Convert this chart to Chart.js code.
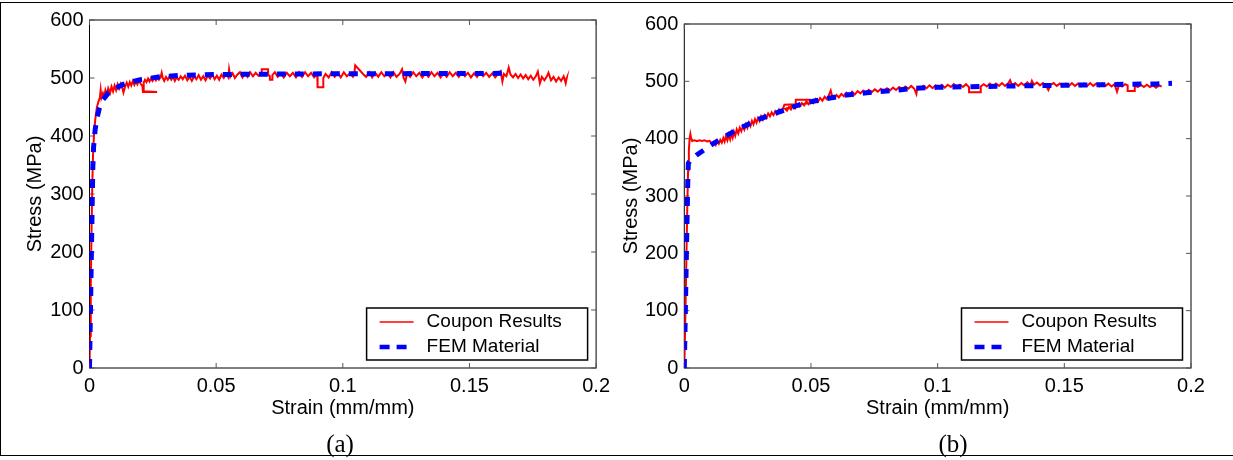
<!DOCTYPE html>
<html>
<head>
<meta charset="utf-8">
<script src="https://cdn.jsdelivr.net/npm/chart.js@4.4.1/dist/chart.umd.min.js"></script>
<style>
  html, body { margin: 0; padding: 0; background: #fff; }
  body { width: 1233px; height: 460px; position: relative; overflow: hidden; }
  canvas { position: absolute; top: 0; display: block; }
  #chartA { left: 0; }
  #chartB { left: 616px; }
  #frame { position: absolute; left: 0; top: 2px; width: 1260px; height: 454px; border: 1px solid #000; box-sizing: border-box; }
  .cap { position: absolute; top: 431px; font: 25px "Liberation Serif", "Times New Roman", serif; line-height: 25px; transform: translateX(-50%); }
</style>
</head>
<body>
<div id="frame"></div>
<canvas id="chartA" width="616" height="460"></canvas>
<canvas id="chartB" width="617" height="460"></canvas>
<div class="cap" style="left:340px">(a)</div>
<div class="cap" style="left:953px">(b)</div>
<script>
const strainTicks = [0, 0.05, 0.1, 0.15, 0.2];
const stressTicks = [0, 100, 200, 300, 400, 500, 600];
const seriesNames = ['Coupon Results', 'FEM Material'];

// [strain, stress] pairs, coupon test (a)
const couponA = [
  [0,0],[0.0002,55],[0.0005,140],[0.0008,235],[0.0011,315],[0.0014,368],[0.0018,404],[0.0023,430],[0.0029,449],[0.0035,459],[0.0041,466],
  [0.0044,479],[0.0047,466],[0.0053,474],[0.0058,468],[0.0063,479],[0.0069,471],[0.0074,482],[0.0081,474],[0.0087,485],[0.0093,477],
  [0.0099,487],[0.0105,479],[0.0111,489],[0.0117,482],[0.0123,490],[0.0129,484],[0.0134,475],[0.0141,486],[0.0147,492],[0.0153,485],
  [0.0159,493],[0.0165,487],[0.0171,495],[0.0177,488],[0.0183,494],[0.0189,489],[0.0195,496],[0.0202,490],[0.0209,486],[0.0211,476],
  [0.0267,476],[0.0212,477],[0.0214,492],[0.0219,497],[0.0225,493],[0.0231,499],[0.0237,494],[0.0243,500],[0.0249,495],[0.0256,501],
  [0.0262,496],[0.0268,501],[0.0274,497],[0.0281,502],[0.0285,509],[0.0289,500],[0.0295,495],[0.0302,502],[0.0309,497],[0.0316,503],
  [0.0323,497],[0.0330,502],[0.0337,495],[0.0344,501],[0.0352,497],[0.0360,503],[0.0368,498],[0.0377,504],[0.0386,496],[0.0395,502],
  [0.0404,495],[0.0413,503],[0.0422,498],[0.0431,505],[0.0440,497],[0.0449,503],[0.0458,496],[0.0467,504],[0.0476,499],[0.0485,506],
  [0.0494,498],[0.0503,504],[0.0512,497],[0.0521,506],[0.0530,500],[0.0540,507],[0.0548,501],[0.0551,515],[0.0556,502],[0.0565,508],
  [0.0574,500],[0.0584,506],[0.0594,510],[0.0604,501],[0.0614,508],[0.0624,502],[0.0634,510],[0.0645,503],[0.0656,509],[0.0667,504],
  [0.0680,507],[0.0680,515],[0.0705,515],[0.0705,506],[0.0712,503],[0.0712,497],[0.0722,497],[0.0722,505],[0.0732,510],[0.0743,502],
  [0.0755,508],[0.0767,501],[0.0779,509],[0.0791,503],[0.0803,509],[0.0815,501],[0.0827,510],[0.0839,502],[0.0851,510],[0.0863,503],
  [0.0875,509],[0.0887,501],[0.0899,507],[0.0900,499],[0.0901,484],[0.0923,484],[0.0923,500],[0.0932,507],[0.0944,501],[0.0956,510],
  [0.0968,502],[0.0980,509],[0.0992,501],[0.1004,510],[0.1016,503],[0.1028,508],[0.1040,502],[0.1045,506],[0.1049,522],[0.1080,507],
  [0.1092,502],[0.1104,510],[0.1116,501],[0.1128,509],[0.1140,502],[0.1152,510],[0.1164,503],[0.1176,509],[0.1188,501],[0.1200,510],
  [0.1212,502],[0.1224,507],[0.1234,515],[0.1240,500],[0.1247,494],[0.1254,508],[0.1266,502],[0.1278,510],[0.1290,503],[0.1302,509],
  [0.1314,501],[0.1326,508],[0.1338,502],[0.1350,510],[0.1362,503],[0.1374,509],[0.1386,501],[0.1398,508],[0.1410,502],[0.1422,510],
  [0.1434,503],[0.1446,509],[0.1458,502],[0.1470,510],[0.1482,503],[0.1494,509],[0.1506,501],[0.1518,508],[0.1530,502],[0.1542,510],
  [0.1554,503],[0.1566,509],[0.1578,502],[0.1590,508],[0.1602,501],[0.1614,508],[0.1623,512],[0.1630,494],[0.1636,507],[0.1646,503],
  [0.1655,518],[0.1662,506],[0.1672,501],[0.1682,507],[0.1692,500],[0.1702,506],[0.1712,499],[0.1722,505],[0.1732,498],[0.1742,504],
  [0.1752,497],[0.1762,503],[0.1770,511],[0.1778,491],[0.1786,502],[0.1796,496],[0.1806,503],[0.1812,509],[0.1822,496],[0.1832,502],
  [0.1842,494],[0.1852,501],[0.1862,495],[0.1872,503],[0.1880,491],[0.1884,500],[0.1880,496]
];

// [strain, stress] pairs, material model (a)
const femA = [
  [0,0],[0.0005,130],[0.001,265],[0.0013,345],[0.0016,380],[0.0022,410],[0.003,432],[0.0039,448],[0.005,461],[0.0074,474],
  [0.010,482],[0.0133,489],[0.017,494],[0.0205,497.5],[0.0278,502],[0.0356,504.5],[0.05,506],[0.08,507],[0.12,507.5],[0.165,508]
];

// [strain, stress] pairs, coupon test (b)
const couponB = [
  [0,0],[0.0004,85],[0.0008,185],[0.0012,285],[0.0015,345],[0.0018,380],[0.0021,400],[0.0024,408],[0.0027,401],[0.0031,396],
  [0.0040,397],[0.0050,395.5],[0.0060,397],[0.0070,396],[0.0080,397],[0.0090,395],[0.0100,396],[0.0106,393],[0.0112,390],[0.0118,394],
  [0.0124,389],[0.0130,395],[0.0136,391],[0.0142,398],[0.0148,393],[0.0154,401],[0.0159,395],[0.0164,404],[0.0170,397],[0.0176,407],
  [0.0181,399],[0.0186,410],[0.0191,402],[0.0196,412],[0.0201,405],[0.0207,416],[0.0213,409],[0.0219,419],[0.0225,413],[0.0231,422],
  [0.0237,416],[0.0243,425],[0.0249,419],[0.0255,428],[0.0261,422],[0.0267,431],[0.0273,425],[0.0279,434],[0.0285,428],[0.0291,436],
  [0.0297,431],[0.0303,439],[0.0310,433],[0.0317,441],[0.0324,436],[0.0331,444],[0.0338,439],[0.0345,446],[0.0352,441],[0.0359,448],
  [0.0366,444],[0.0374,451],[0.0382,446],[0.0390,453],[0.0395,459],[0.0440,460],[0.0440,468],[0.0495,468],[0.0495,462],[0.0442,459],
  [0.0398,452],[0.0405,449],[0.0413,455],[0.0421,451],[0.0429,458],[0.0437,453],[0.0446,460],[0.0455,456],[0.0464,462],[0.0473,458],
  [0.0482,465],[0.0491,460],[0.0500,466],[0.0509,462],[0.0518,469],[0.0527,464],[0.0536,471],[0.0545,466],[0.0554,473],[0.0562,469],
  [0.0570,475],[0.0578,484],[0.0584,473],[0.0592,470],[0.0601,476],[0.0610,472],[0.0620,478],[0.0630,474],[0.0640,480],[0.0651,476],
  [0.0662,482],[0.0673,477],[0.0684,483],[0.0695,479],[0.0706,484],[0.0717,480],[0.0728,485],[0.0740,481],[0.0752,486],[0.0764,482],
  [0.0776,487],[0.0788,483],[0.0800,488],[0.0812,484],[0.0824,489],[0.0836,485],[0.0848,490],[0.0860,486],[0.0872,491],[0.0884,487],
  [0.0896,492],[0.0908,487],[0.0916,478],[0.0920,490],[0.0932,487],[0.0944,492],[0.0956,488],[0.0968,493],[0.0980,488],[0.0992,493],
  [0.1004,489],[0.1016,494],[0.1028,489],[0.1040,494],[0.1052,490],[0.1064,495],[0.1076,490],[0.1088,494],[0.1100,490],[0.1112,495],
  [0.1124,490],[0.1124,481],[0.1170,481],[0.1170,491],[0.1182,495],[0.1194,491],[0.1206,496],[0.1218,491],[0.1230,496],[0.1242,492],
  [0.1254,497],[0.1266,492],[0.1278,496],[0.1286,502],[0.1294,493],[0.1306,497],[0.1318,492],[0.1330,497],[0.1342,493],[0.1354,498],
  [0.1366,493],[0.1372,501],[0.1380,494],[0.1392,498],[0.1404,493],[0.1416,497],[0.1428,492],[0.1437,485],[0.1446,494],[0.1458,497],
  [0.1470,492],[0.1482,496],[0.1494,491],[0.1506,496],[0.1518,492],[0.1530,497],[0.1542,492],[0.1554,496],[0.1566,491],[0.1578,496],
  [0.1590,492],[0.1602,497],[0.1614,492],[0.1626,496],[0.1638,491],[0.1650,496],[0.1662,492],[0.1674,496],[0.1686,491],[0.1698,495],
  [0.1708,482],[0.1716,494],[0.1728,491],[0.1740,495],[0.1750,493],[0.1750,483],[0.1778,483],[0.1778,493],[0.1790,490],[0.1802,494],
  [0.1814,490],[0.1826,494],[0.1838,490],[0.1850,493],[0.1862,489],[0.1874,493],[0.1884,491]
];

// [strain, stress] pairs, material model (b)
const femB = [
  [0,0],[0.0005,120],[0.001,240],[0.0014,330],[0.0016,357],[0.0025,363],[0.0049,371.5],[0.008,381],[0.0116,392],[0.016,404],
  [0.0207,415],[0.0286,432.6],[0.0377,447],[0.047,461.7],[0.055,469],[0.064,476],[0.072,480],[0.0799,483],[0.091,487.8],
  [0.0997,489.6],[0.11,490.5],[0.125,491.5],[0.14,492.5],[0.155,493.5],[0.17,494.5],[0.1864,495.5],[0.1925,496.6]
];

const FONT = "'Liberation Sans', Arial, sans-serif";
Chart.defaults.font.family = FONT;
Chart.defaults.color = '#000';

// box around the plot with small inward ticks on every side
const axesBox = {
  id: 'axesBox',
  beforeDatasetsDraw(chart) {
    const { ctx, chartArea: a, scales: { x, y } } = chart;
    ctx.save();
    ctx.strokeStyle = '#000';
    ctx.lineWidth = 1;
    ctx.strokeRect(a.left, a.top, a.right - a.left, a.bottom - a.top);
    ctx.strokeStyle = '#555';
    ctx.beginPath();
    strainTicks.forEach((v) => {
      const px = x.getPixelForValue(v);
      ctx.moveTo(px, a.bottom); ctx.lineTo(px, a.bottom - 5);
      ctx.moveTo(px, a.top); ctx.lineTo(px, a.top + 5);
    });
    stressTicks.forEach((v) => {
      const py = y.getPixelForValue(v);
      ctx.moveTo(a.left, py); ctx.lineTo(a.left + 5, py);
      ctx.moveTo(a.right, py); ctx.lineTo(a.right - 5, py);
    });
    ctx.stroke();
    ctx.restore();
  }
};

// framed legend in the lower right corner of the plot
const boxLegend = {
  id: 'boxLegend',
  afterDatasetsDraw(chart) {
    const { ctx, chartArea: a } = chart;
    const w = 221, h = 52;
    const left = a.right - 8.5 - w;
    const top = a.bottom - 8 - h;
    ctx.save();
    ctx.fillStyle = '#fff';
    ctx.fillRect(left, top, w, h);
    ctx.strokeStyle = '#000';
    ctx.lineWidth = 1.5;
    ctx.strokeRect(left, top, w, h);
    ctx.font = `19px ${FONT}`;
    ctx.textBaseline = 'middle';
    chart.data.datasets.forEach((ds, i) => {
      const cy = top + 14 + i * 25;
      const dashed = !!ds.borderDash;
      ctx.beginPath();
      ctx.strokeStyle = ds.borderColor;
      ctx.lineWidth = dashed ? 4.5 : 1.5;
      ctx.setLineDash(dashed ? [10, 7] : []);
      ctx.moveTo(left + 13, cy);
      ctx.lineTo(left + (dashed ? 40 : 47), cy);
      ctx.stroke();
      ctx.setLineDash([]);
      ctx.fillStyle = '#000';
      ctx.fillText(ds.label, left + 60, cy);
    });
    ctx.restore();
  }
};

function buildChart(id, coupon, fem, g) {
  return new Chart(document.getElementById(id), {
    type: 'scatter',
    data: {
      datasets: [
        {
          label: seriesNames[0],
          data: coupon.map(([x, y]) => ({ x, y })),
          showLine: true,
          borderColor: '#ff0000',
          borderWidth: 2,
          pointRadius: 0,
          order: 1
        },
        {
          label: seriesNames[1],
          data: fem.map(([x, y]) => ({ x, y })),
          showLine: true,
          borderColor: '#0000ff',
          borderWidth: 5,
          borderDash: [9, 9],
          pointRadius: 0,
          order: 0
        }
      ]
    },
    options: {
      responsive: false,
      animation: false,
      devicePixelRatio: 1,
      events: [],
      layout: { padding: { top: g.top, right: g.right, left: 0, bottom: 0 } },
      plugins: { legend: { display: false }, tooltip: { enabled: false } },
      scales: {
        x: {
          type: 'linear',
          min: 0,
          max: 0.2,
          afterBuildTicks: (s) => { s.ticks = strainTicks.map((v) => ({ value: v })); },
          afterFit: (s) => { s.height = 92; },
          grid: { display: false, drawTicks: false },
          border: { display: false },
          ticks: { callback: (v) => String(v), color: '#000', font: { size: 20 }, padding: 6, maxRotation: 0, autoSkip: false },
          title: { display: true, text: 'Strain (mm/mm)', color: '#000', font: { size: 20 }, padding: { top: 0, bottom: 40 } }
        },
        y: {
          type: 'linear',
          min: 0,
          max: 600,
          afterBuildTicks: (s) => { s.ticks = stressTicks.map((v) => ({ value: v })); },
          afterFit: (s) => { s.width = g.yw; },
          grid: { display: false, drawTicks: false },
          border: { display: false },
          ticks: { callback: (v) => String(v), color: '#000', font: { size: 20 }, padding: 6, autoSkip: false },
          title: { display: true, text: 'Stress (MPa)', color: '#000', font: { size: 20 }, padding: { top: g.titlePad, bottom: 0 } }
        }
      }
    },
    plugins: [axesBox, boxLegend]
  });
}

buildChart('chartA', couponA, femA, { top: 20, right: 18.5, yw: 89.5, titlePad: 23 });
buildChart('chartB', couponB, femB, { top: 24, right: 42, yw: 68.3, titlePad: 3 });
</script>
</body>
</html>
